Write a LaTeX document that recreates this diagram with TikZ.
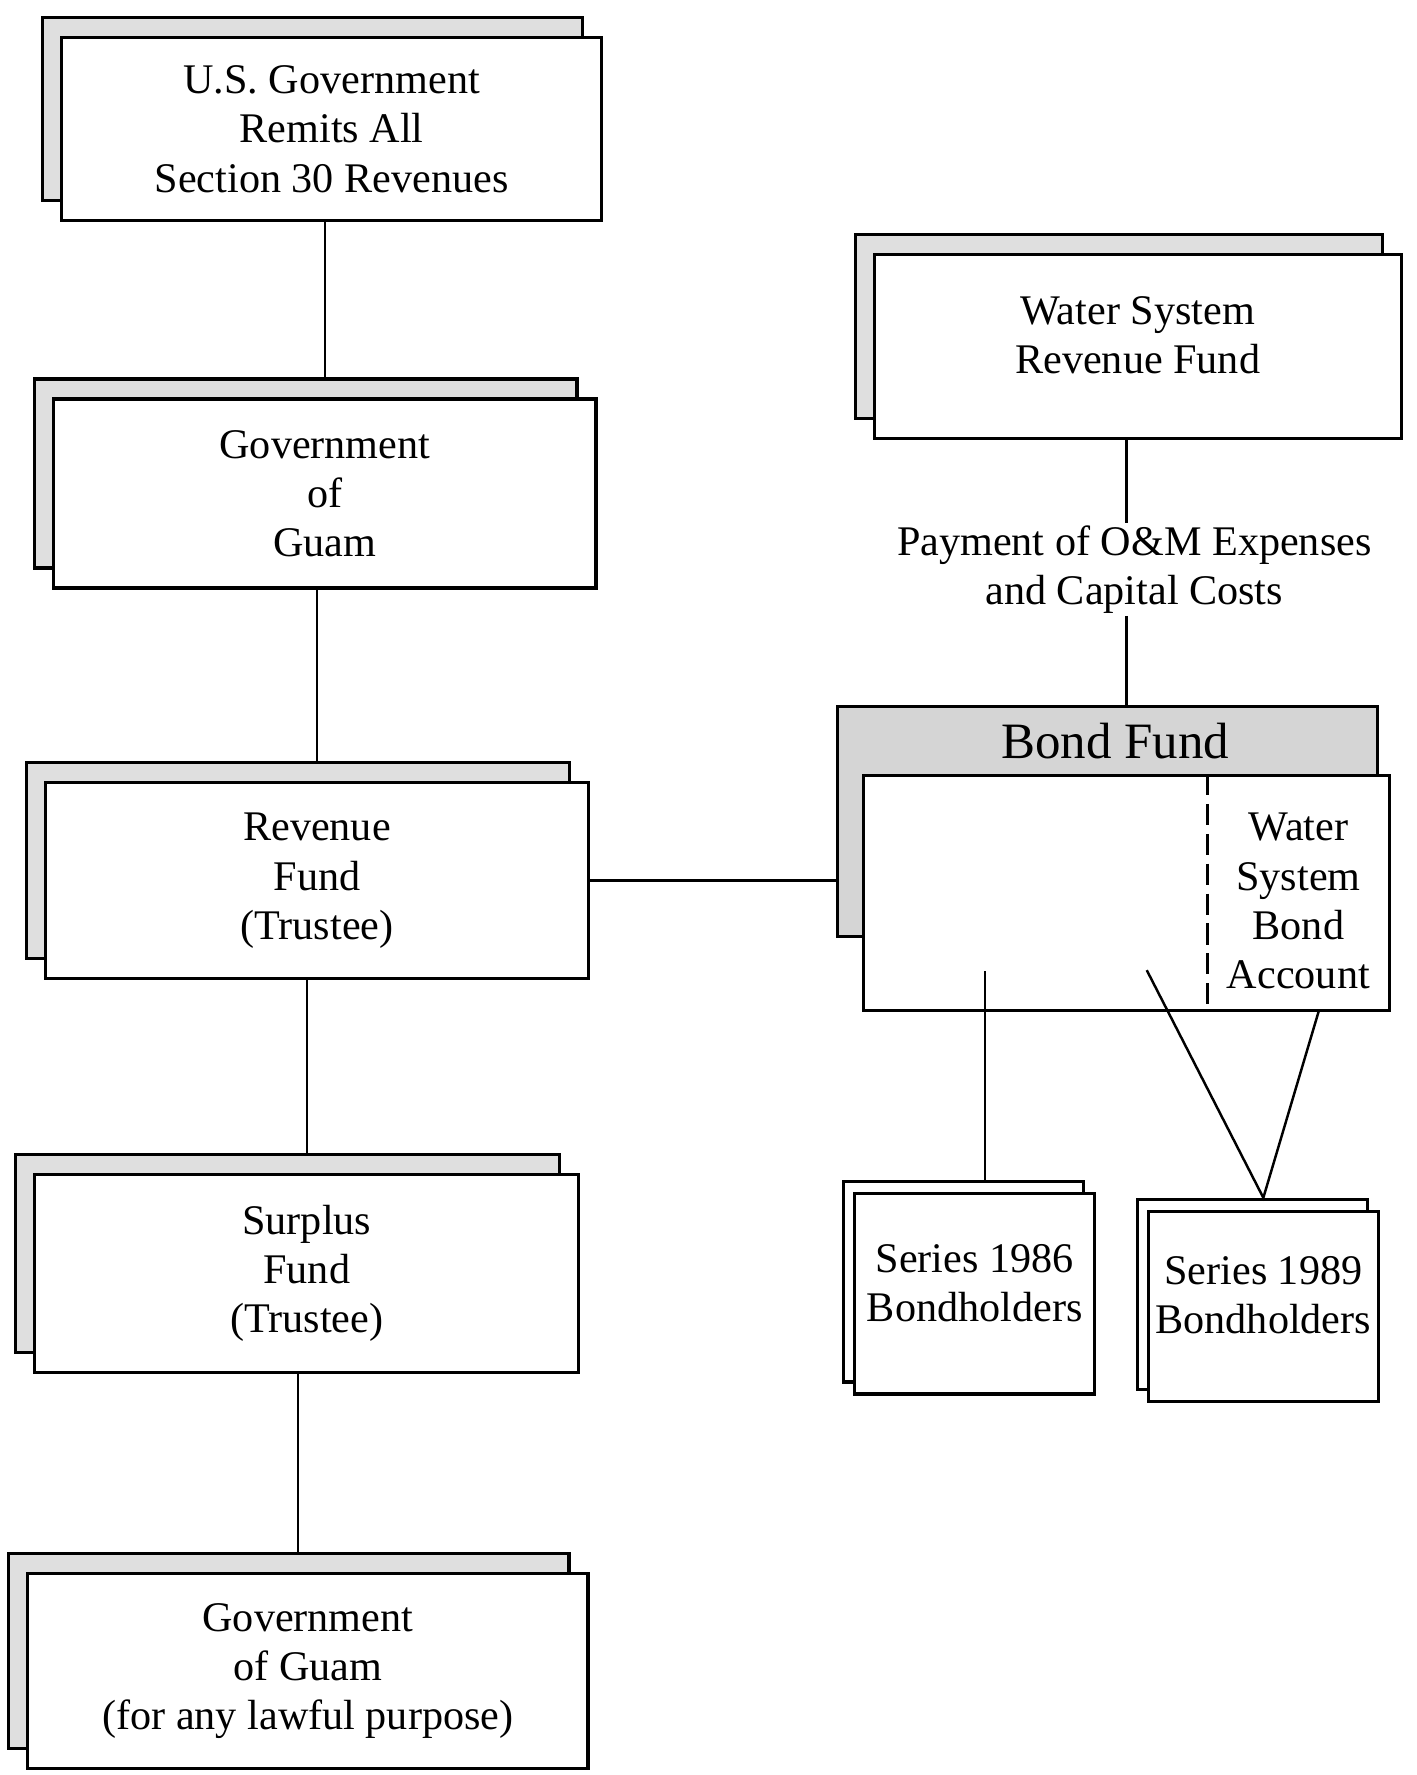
\documentclass[tikz,border=0pt]{standalone}
\usepackage{fontspec}
\setmainfont{Liberation Serif}
\usetikzlibrary{shadows,backgrounds}

\tikzset{
    boxbase/.style={draw, line width=0.9pt, fill=white, align=center, inner sep=0pt,
        font=\fontsize{12}{14}\selectfont},
    fund/.style={boxbase,
        copy shadow={shadow xshift=-1.9mm, shadow yshift=2mm, fill=gray!25, draw=black, line width=0.9pt}},
    holder/.style={boxbase,
        copy shadow={shadow xshift=-1.1mm, shadow yshift=1.2mm, fill=white, draw=black, line width=0.9pt}},
    link/.style={line width=0.7pt},
}

\begin{document}
\begin{tikzpicture}[x=0.11319mm, y=-0.11319mm]
        \useasboundingbox (0,0) rectangle (1251,1568);
        % left column
        \node[fund, minimum width=54mm, minimum height=18.3mm] (usgov) at (293,114) {U.S. Government\\Remits All\\Section 30 Revenues};
        \node[fund, minimum width=54.2mm, minimum height=18.9mm] (guam) at (287,436) {Government\\of\\Guam};
        \node[fund, minimum width=54.3mm, minimum height=19.6mm] (revenue) at (280,778) {Revenue\\Fund\\(Trustee)};
        \node[fund, minimum width=54.4mm, minimum height=19.8mm] (surplus) at (271,1125) {Surplus\\Fund\\(Trustee)};
        \node[fund, minimum width=56mm, minimum height=19.5mm] (lawful) at (272,1476) {Government\\of Guam\\(for any lawful purpose)};
        % right column
        \node[fund, minimum width=52.7mm, minimum height=18.4mm] (waterrev) at (1005,306) {Water System\\Revenue Fund\\[-2.7mm]};
        \node[font=\fontsize{12}{14}\selectfont, align=center, inner sep=0.5pt] (pay) at (1002,503) {Payment of O\&M Expenses\\and Capital Costs};
        \node[draw, line width=0.9pt, fill=gray!33, minimum width=54mm, minimum height=23mm] (bondbg) at (978,726) {};
        \node[font=\fontsize{14.5}{16}\selectfont] (bondlbl) at (985,655) {Bond Fund};
        \node[draw, line width=0.9pt, fill=white, minimum width=52.6mm, minimum height=23.5mm] (bond) at (995,789) {};
        \coordinate (split) at (1067,789);
        \draw[line width=0.9pt, dash pattern=on 6pt off 2.5pt] (split |- bond.north) -- (split |- bond.south);
        \node[font=\fontsize{12}{14}\selectfont, align=center] (acct) at (1147,796) {Water\\System\\Bond\\Account};
        \node[holder, minimum width=24mm, minimum height=20mm] (s86) at (861,1143) {Series 1986\\Bondholders\\[-2.7mm]};
        \node[holder, minimum width=23mm, minimum height=19mm] (s89) at (1116,1154) {Series 1989\\Bondholders\\[-2.7mm]};

        \begin{scope}[on background layer]
            \draw[link] (guam.north) -- (guam.north |- usgov.south);
            \draw[link] (revenue.north) -- (revenue.north |- guam.south);
            \draw[link] (surplus.north) -- (surplus.north |- revenue.south);
            \draw[link] ([xshift=-0.9mm]surplus.south) -- ([xshift=-0.9mm]surplus.south |- lawful.north);
            \draw[link] (revenue.east) -- (revenue.east -| bondbg.west);
        \end{scope}

        \coordinate (payline) at (995,503);
        \draw[link] (payline |- waterrev.south) -- (payline |- pay.north);
        \draw[link] (payline |- pay.south) -- (payline |- bondbg.north);

        \coordinate (s86top) at ([yshift=1.2mm]s86.north);
        \coordinate (s89top) at ([yshift=1.2mm]s89.north);
        \coordinate (tap86) at (870,858);
        \coordinate (tap89a) at (1013,857);
        \coordinate (tap89b) at (1165,893);
        \draw[link] (tap86) -- (tap86 |- s86top);
        \draw[link] (tap89a) -- (s89top) -- (tap89b);
    \end{tikzpicture}
\end{document}
